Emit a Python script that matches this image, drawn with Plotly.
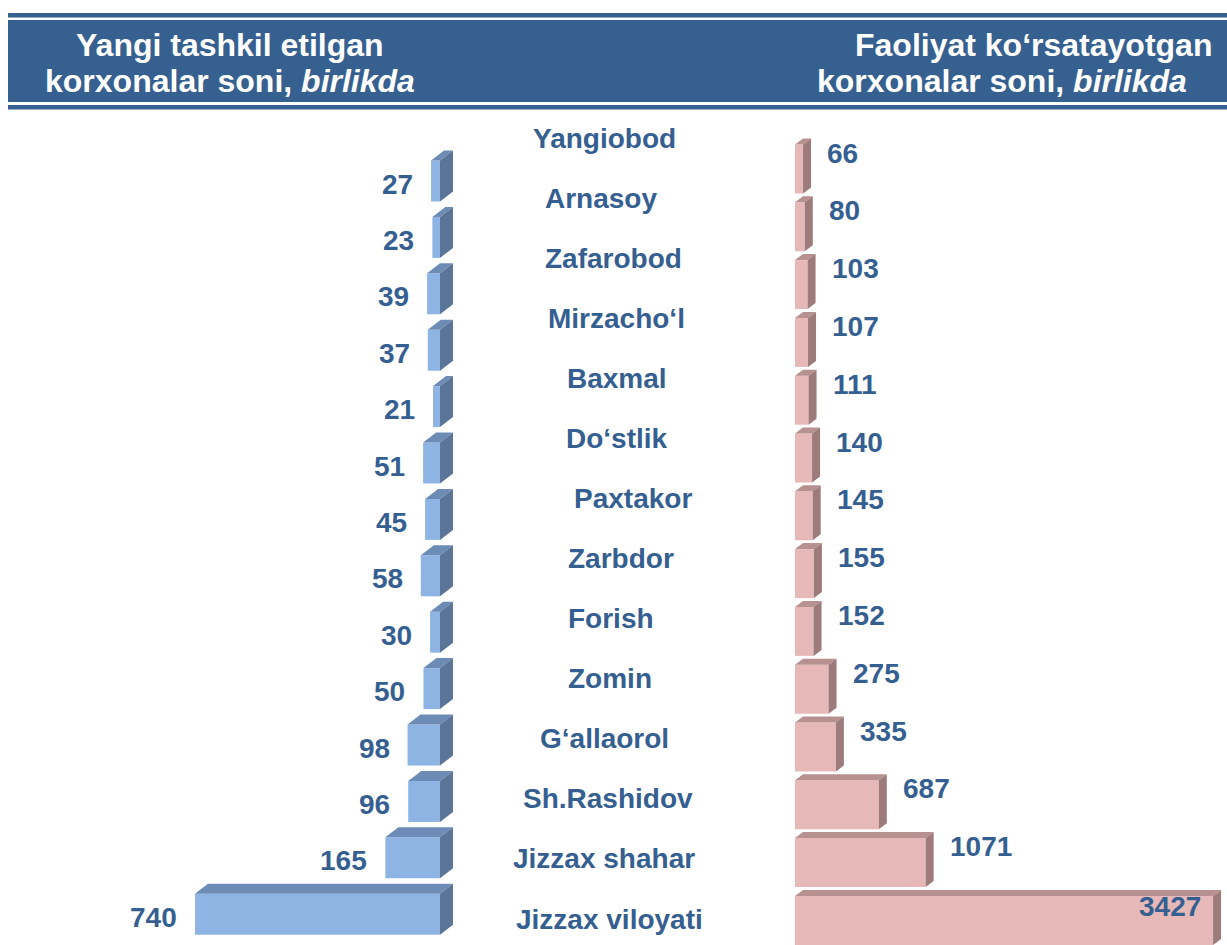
import plotly.graph_objects as go

# --- data -------------------------------------------------------------
districts = ["Yangiobod", "Arnasoy", "Zafarobod", "Mirzacho‘l", "Baxmal",
             "Do‘stlik", "Paxtakor", "Zarbdor", "Forish", "Zomin",
             "G‘allaorol", "Sh.Rashidov", "Jizzax shahar", "Jizzax viloyati"]
new_firms = [27, 23, 39, 37, 21, 51, 45, 58, 30, 50, 98, 96, 165, 740]
active_firms = [66, 80, 103, 107, 111, 140, 145, 155, 152, 275, 335, 687, 1071, 3427]

left_title = ["Yangi tashkil etilgan", "korxonalar soni, <i>birlikda</i>"]
right_title = ["Faoliyat ko‘rsatayotgan", "korxonalar soni, <i>birlikda</i>"]

# --- layout constants (pixels) -----------------------------------------
W, H = 1227, 945
FONT = "Liberation Sans"
TXT = "#365F91"
BAND = "#36608F"

L_ZERO, L_SCALE = 440.0, 0.3311          # left panel: 0 at x=440, px per unit
R_ZERO, R_SCALE = 795.0, 0.1220          # right panel
L_DOM = (0, 470)
R_DOM = (780, W)

L_Y0, L_PITCH, L_H = 181.0, 56.4, 41.0
R_Y0, R_PITCH, R_H = 169.0, 57.8, 49.0
L_DX, L_DY = 13.0, 10.0                  # 3D depth offsets
R_DX, R_DY = 8.0, 6.0

CAT_Y0, CAT_PITCH = 138.0, 60.08
cat_x = [604, 601, 613, 616, 617, 617, 633, 621, 611, 610, 604, 608, 604, 609]

left_y = [L_Y0 + i * L_PITCH for i in range(len(districts))]
right_y = [R_Y0 + i * R_PITCH for i in range(len(districts))]

fig = go.Figure()

# front faces
fig.add_trace(go.Bar(x=new_firms, y=left_y, orientation="h", width=L_H,
                     marker=dict(color="#8EB4E3", line=dict(width=0)),
                     xaxis="x", yaxis="y", hoverinfo="skip"))
fig.add_trace(go.Bar(x=active_firms, y=right_y, orientation="h", width=R_H,
                     marker=dict(color="#E6B9B8", line=dict(width=0)),
                     xaxis="x2", yaxis="y", hoverinfo="skip"))


def faces(values, ys, h, dx_units, dy, direction):
    """Top and side parallelograms of 3D bars.
    direction=+1: bars grow right, depth to the right of the end.
    direction=-1: bars grow left (reversed axis), depth to the right of zero."""
    tx, ty, sx, sy = [], [], [], []
    for v, yc in zip(values, ys):
        top, bot = yc - h / 2, yc + h / 2
        if direction > 0:
            a, b = 0, v
            edge = v
            d = dx_units
        else:
            a, b = v, 0
            edge = 0
            d = -dx_units
        tx += [a, b, b + d, a + d, a, None]
        ty += [top, top, top - dy, top - dy, top, None]
        sx += [edge, edge, edge + d, edge + d, edge, None]
        sy += [top, bot, bot - dy, top - dy, top, None]
    return tx, ty, sx, sy


ltx, lty, lsx, lsy = faces(new_firms, left_y, L_H, L_DX / L_SCALE, L_DY, -1)
rtx, rty, rsx, rsy = faces(active_firms, right_y, R_H, R_DX / R_SCALE, R_DY, +1)

for x, y, col, ax in [(ltx, lty, "#6C8CB6", "x"), (lsx, lsy, "#5B7598", "x"),
                      (rtx, rty, "#B79190", "x2"), (rsx, rsy, "#9C7B7A", "x2")]:
    fig.add_trace(go.Scatter(x=x, y=y, mode="lines", fill="toself",
                             fillcolor=col, line=dict(width=0, color=col),
                             xaxis=ax, yaxis="y", hoverinfo="skip"))

annotations = []

# value labels, left panel
for v, yc in zip(new_firms, left_y):
    annotations.append(dict(x=v, y=yc + 3, xref="x", yref="y", text=str(v),
                            showarrow=False, xanchor="right", yanchor="middle",
                            xshift=-16,
                            font=dict(family=FONT, size=28, color=TXT, weight="bold")))

# value labels, right panel
vmax = max(active_firms)
for v, yc in zip(active_firms, right_y):
    inside = v == vmax
    annotations.append(dict(x=v, y=yc - (14 if inside else 16), xref="x2", yref="y",
                            text=str(v), showarrow=False,
                            xanchor="right" if inside else "left", yanchor="middle",
                            xshift=-10 if inside else 22,
                            font=dict(family=FONT, size=28, color=TXT, weight="bold")))

# district names in the middle
for i, name in enumerate(districts):
    annotations.append(dict(x=cat_x[i] / W, y=CAT_Y0 + i * CAT_PITCH,
                            xref="paper", yref="y", text=name, showarrow=False,
                            xanchor="center", yanchor="middle",
                            font=dict(family=FONT, size=28, color=TXT, weight="bold")))

# header titles
for txt, yy in zip(left_title, [45, 81]):
    annotations.append(dict(x=230 / W, y=yy, xref="paper", yref="y", text=txt,
                            showarrow=False, xanchor="center", yanchor="middle",
                            font=dict(family=FONT, size=32, color="white", weight="bold")))
for txt, yy, xr in zip(right_title, [45, 81], [1214, 1189]):
    annotations.append(dict(x=xr / W, y=yy, xref="paper", yref="y", text=txt,
                            showarrow=False, xanchor="right", yanchor="middle",
                            font=dict(family=FONT, size=32, color="white", weight="bold")))

shapes = [
    dict(type="rect", xref="paper", yref="y", x0=8 / W, x1=1, y0=13, y1=17.5,
         fillcolor=BAND, line=dict(width=0), layer="below"),
    dict(type="rect", xref="paper", yref="y", x0=8 / W, x1=1, y0=20, y1=102,
         fillcolor=BAND, line=dict(width=0), layer="below"),
    dict(type="rect", xref="paper", yref="y", x0=8 / W, x1=1, y0=105, y1=109.5,
         fillcolor=BAND, line=dict(width=0), layer="below"),
]

l_lo = -(L_DOM[1] - L_ZERO) / L_SCALE
l_hi = (L_ZERO - L_DOM[0]) / L_SCALE
r_lo = -(R_ZERO - R_DOM[0]) / R_SCALE
r_hi = (R_DOM[1] - R_ZERO) / R_SCALE

hidden = dict(visible=False, showgrid=False, zeroline=False, fixedrange=True)
fig.update_layout(
    width=W, height=H, margin=dict(l=0, r=0, t=0, b=0, pad=0),
    paper_bgcolor="white", plot_bgcolor="rgba(0,0,0,0)",
    showlegend=False, barmode="overlay",
    xaxis=dict(domain=[L_DOM[0] / W, L_DOM[1] / W], range=[l_hi, l_lo], **hidden),
    xaxis2=dict(domain=[R_DOM[0] / W, R_DOM[1] / W], range=[r_lo, r_hi],
                anchor="y", **hidden),
    yaxis=dict(domain=[0, 1], range=[H, 0], **hidden),
    annotations=annotations, shapes=shapes,
)

fig.write_html("out.html")
